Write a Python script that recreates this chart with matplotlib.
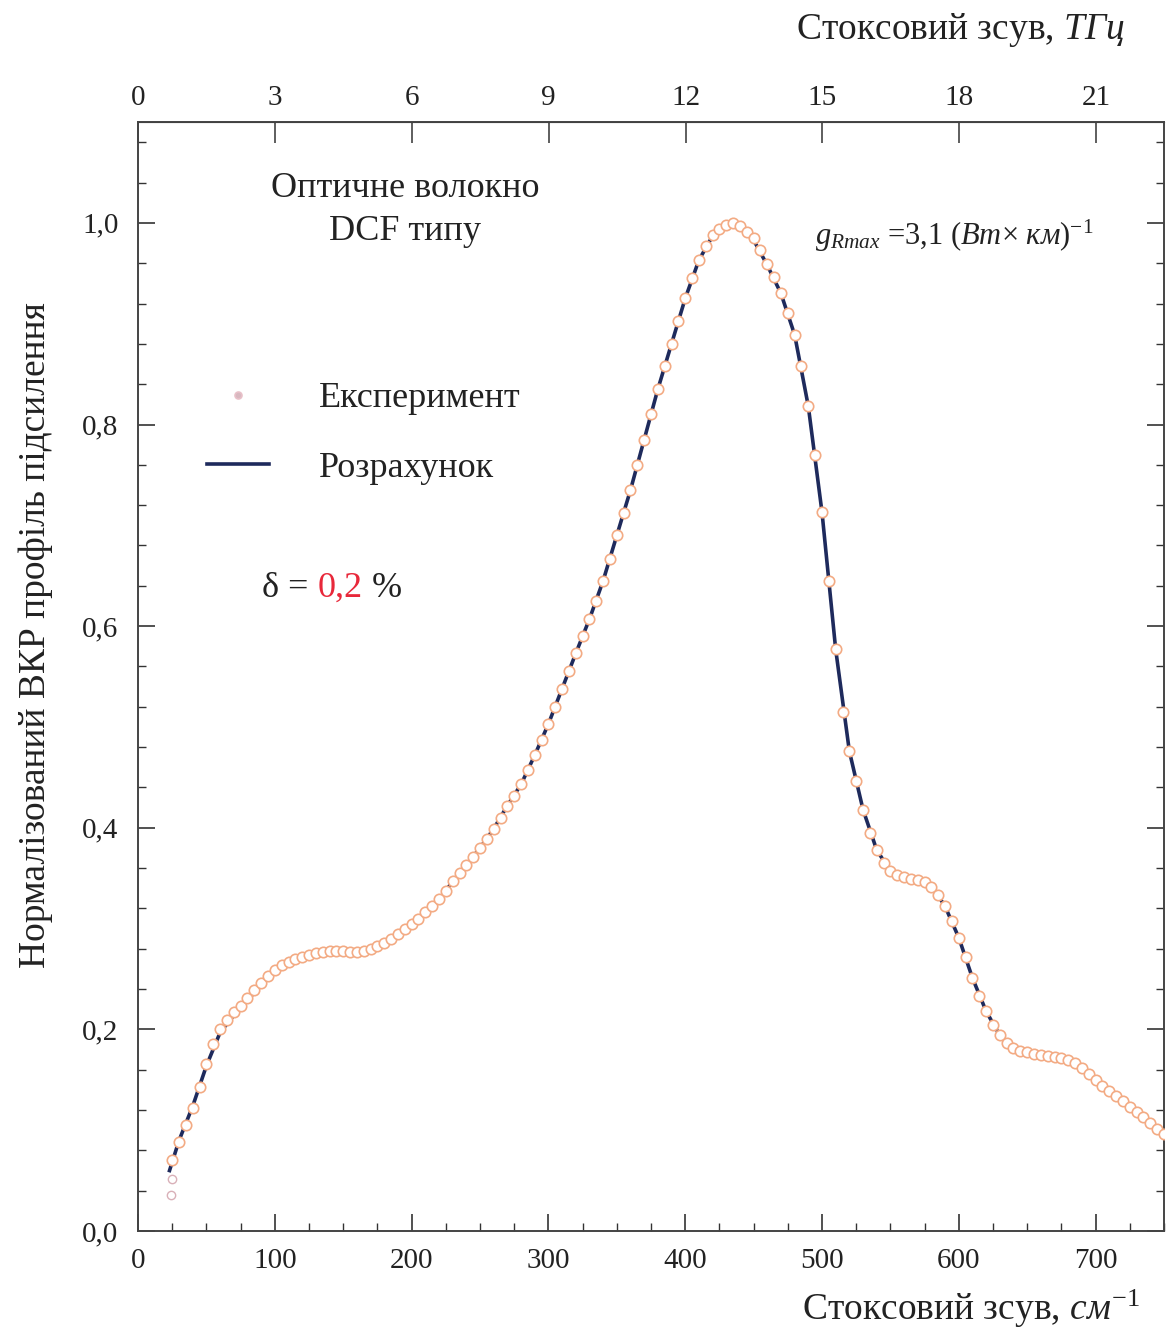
import numpy as np
import matplotlib
matplotlib.use("Agg")
import matplotlib.pyplot as plt
from matplotlib.ticker import MultipleLocator, FuncFormatter

plt.rcParams['font.family'] = ['Liberation Serif', 'DejaVu Serif']
plt.rcParams['mathtext.fontset'] = 'custom'
plt.rcParams['mathtext.rm'] = 'Liberation Serif'
plt.rcParams['mathtext.it'] = 'Liberation Serif:italic'

# ---- data ----
exp_start_x = [24, 25]
exp_start_y = [0.036, 0.052]
exp_x = np.arange(25, 751, 5)
exp_y = [0.070, 0.088, 0.105, 0.122, 0.143, 0.166, 0.186, 0.200, 0.209, 0.217,
         0.223, 0.231, 0.239, 0.246, 0.253, 0.259, 0.264, 0.267, 0.270, 0.272,
         0.274, 0.276, 0.277, 0.278, 0.278, 0.278, 0.277, 0.277, 0.278, 0.280,
         0.283, 0.286, 0.290, 0.295, 0.300, 0.305, 0.310, 0.316, 0.322, 0.329,
         0.337, 0.347, 0.355, 0.363, 0.371, 0.380, 0.389, 0.399, 0.410, 0.422,
         0.432, 0.443, 0.457, 0.472, 0.487, 0.503, 0.520, 0.538, 0.556, 0.573,
         0.590, 0.607, 0.625, 0.645, 0.667, 0.690, 0.712, 0.735, 0.760, 0.785,
         0.810, 0.835, 0.858, 0.880, 0.903, 0.925, 0.945, 0.963, 0.977, 0.988,
         0.994, 0.998, 1.000, 0.997, 0.991, 0.985, 0.973, 0.959, 0.946, 0.930,
         0.911, 0.889, 0.858, 0.818, 0.770, 0.713, 0.645, 0.577, 0.515, 0.476,
         0.446, 0.418, 0.395, 0.378, 0.365, 0.357, 0.353, 0.351, 0.349, 0.348,
         0.346, 0.341, 0.333, 0.322, 0.308, 0.291, 0.272, 0.251, 0.233, 0.218,
         0.204, 0.194, 0.187, 0.182, 0.179, 0.178, 0.176, 0.175, 0.174, 0.173,
         0.172, 0.170, 0.167, 0.162, 0.156, 0.150, 0.144, 0.139, 0.134, 0.129,
         0.123, 0.118, 0.113, 0.107, 0.101, 0.096]

calc_x = [23, 30, 40, 50, 60, 70, 80, 90, 100, 110, 120, 130, 140, 150, 160,
          170, 180, 190, 200, 210, 220, 230, 240, 250, 260, 270, 280, 290, 300,
          310, 320, 330, 340, 350, 360, 370, 380, 390, 400, 410, 420, 430, 435,
          440, 450, 460, 470, 480, 490, 500, 510, 520, 530, 540, 550, 560, 570,
          580, 590, 600, 610, 620, 630, 640, 650, 660, 670, 680, 690, 700, 710,
          720, 730, 740, 750]
calc_y = [0.060, 0.090, 0.124, 0.164, 0.197, 0.214, 0.229, 0.244, 0.258, 0.268,
          0.273, 0.276, 0.277, 0.277, 0.277, 0.280, 0.286, 0.295, 0.305, 0.316,
          0.328, 0.347, 0.363, 0.380, 0.399, 0.422, 0.443, 0.472, 0.503, 0.538,
          0.573, 0.607, 0.645, 0.690, 0.735, 0.785, 0.835, 0.880, 0.925, 0.963,
          0.987, 0.996, 0.997, 0.995, 0.983, 0.958, 0.930, 0.889, 0.818, 0.713,
          0.577, 0.476, 0.418, 0.378, 0.357, 0.351, 0.348, 0.343, 0.322, 0.291,
          0.251, 0.218, 0.194, 0.182, 0.178, 0.175, 0.173, 0.170, 0.162, 0.150,
          0.139, 0.129, 0.118, 0.107, 0.094]

x_ticks = [0, 100, 200, 300, 400, 500, 600, 700]
y_ticks = [0.0, 0.2, 0.4, 0.6, 0.8, 1.0]
thz_ticks = [0, 3, 6, 9, 12, 15, 18, 21]
CM_TO_THZ = 0.029979

exp_color = '#f3ab84'
calc_color = '#1e2a5c'

fig = plt.figure(figsize=(11.67, 13.28), dpi=100)
ax = fig.add_axes([0.1183, 0.0730, 0.8791, 0.8351])

ax.plot(calc_x, calc_y, color=calc_color, lw=2.6, zorder=2, label='Розрахунок')
ax.plot(exp_start_x, exp_start_y, ls='none', marker='o', ms=6, mfc='white',
        mec='#d9b0b8', mew=1.0, zorder=3)
ax.plot(exp_x, exp_y, ls='none', marker='o', ms=7.5, mfc='white',
        mec=exp_color, mew=1.2, zorder=3, label='Експеримент')

ax.set_xlim(0, 750)
ax.set_ylim(0, 1.1)
ax.set_xticks(x_ticks)
ax.set_yticks(y_ticks)
ax.xaxis.set_minor_locator(MultipleLocator(25))
ax.yaxis.set_minor_locator(MultipleLocator(0.04))
ax.yaxis.set_major_formatter(FuncFormatter(lambda v, p: f'{v:.1f}'.replace('.', ',')))
ax.tick_params(which='both', direction='in', right=True, top=False,
               colors='#333333', labelcolor='#222222', labelsize=21)
ax.tick_params(which='major', length=12, width=1.2)
ax.tick_params(which='minor', length=6, width=1.0)
ax.tick_params(axis='x', pad=12)
ax.tick_params(axis='y', pad=14)
for s in ax.spines.values():
    s.set_color('#444444')
    s.set_linewidth(1.4)

ax.set_xlabel('Стоксовий зсув, $\\mathit{см}^{-1}$', fontsize=27, color='#222222')
ax.xaxis.set_label_coords(0.977, -0.070)
ax.xaxis.label.set_ha('right')
ax.xaxis.label.set_va('center')

ax.set_ylabel('Нормалізований ВКР профіль підсилення', fontsize=27,
              color='#222222')
ax.yaxis.set_label_coords(-0.100, 0.537)
ax.yaxis.label.set_va('center')

top = ax.secondary_xaxis('top', functions=(lambda v: v * CM_TO_THZ,
                                            lambda v: v / CM_TO_THZ))
top.set_xticks(thz_ticks)
top.tick_params(direction='in', length=15, width=1.1, colors='#333333',
                labelcolor='#222222', labelsize=21, pad=8)
top.set_xlabel('Стоксовий зсув, $\\mathit{ТГц}$', fontsize=27, color='#222222')
top.xaxis.set_label_coords(0.962, 1.083, transform=ax.transAxes)
top.xaxis.label.set_ha('right')
top.xaxis.label.set_va('center')

leg = ax.legend(handles=[ax.lines[2], ax.lines[0]],
                labels=['Експеримент', 'Розрахунок'],
                loc='upper left', bbox_to_anchor=(0.036, 0.795), frameon=False,
                fontsize=26, handlelength=1.7, handletextpad=1.4,
                labelspacing=1.0, numpoints=1)
for t in leg.get_texts():
    t.set_color('#222222')
leg.legend_handles[0].set_markeredgecolor('#e8c0c8')
leg.legend_handles[0].set_markerfacecolor('#d8b8c0')
leg.legend_handles[0].set_markersize(5)

ax.text(0.26, 0.955, 'Оптичне волокно\nDCF типу', transform=ax.transAxes,
        ha='center', va='top', fontsize=26, color='#222222', linespacing=1.4)

ax.text(0.66, 0.897, '$g_{Rmax}$ =3,1 ($Вт$× $км$)$^{-1}$', transform=ax.transAxes,
        ha='left', va='center', fontsize=22, color='#222222')

t1 = ax.text(0.121, 0.572, 'δ = ', transform=ax.transAxes, ha='left',
             va='baseline', fontsize=26, color='#222222')
t2 = ax.annotate('0,2', xy=(1, 0), xycoords=t1, ha='left', va='bottom',
                 fontsize=26, color='#e8283a')
t3 = ax.annotate(' %', xy=(1, 0), xycoords=t2, ha='left', va='bottom',
                 fontsize=26, color='#222222')

fig.savefig('out.png', dpi=100)
